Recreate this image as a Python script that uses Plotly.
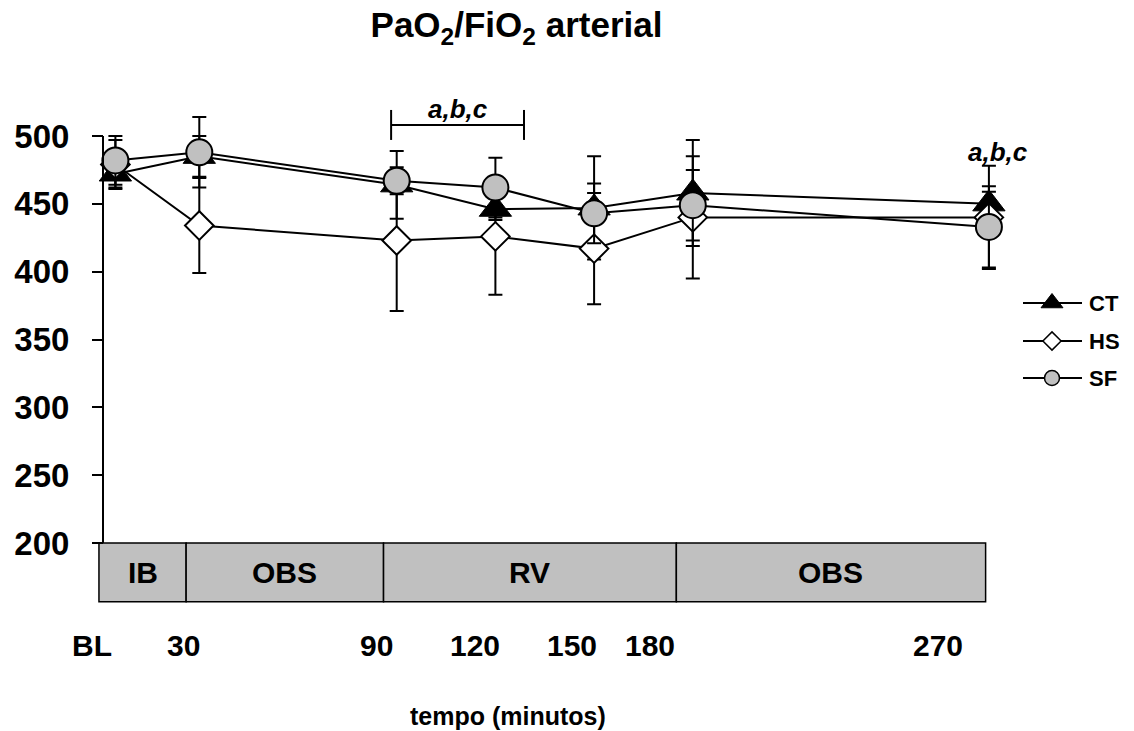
import plotly.graph_objects as go

# ---- data -------------------------------------------------------------
time_labels = ["BL", "30", "90", "120", "150", "180", "270"]
time_min = [4.5, 30, 90, 120, 150, 180, 270]

ct_mean = [472, 485, 464, 446, 447, 458, 450]
ct_sd = [10, 15, 25, 8, 38, 39, 9]

hs_mean = [479, 434, 423, 426, 417, 440, 440]
hs_sd = [18, 35, 52, 43, 41, 45, 38]

sf_mean = [482, 488, 467, 462, 443, 449, 433]
sf_sd = [18, 26, 10, 22, 22, 26, 30]

phase_labels = ["IB", "OBS", "RV", "OBS"]
phase_edges = [-0.5, 26, 86, 175, 269]

y_ticks = [200, 250, 300, 350, 400, 450, 500]

# ---- layout constants -------------------------------------------------
W, H = 1134, 731
ML, MR, MT, MB = 97, 0, 80, 111
PW, PH = W - ML - MR, H - MT - MB
PX_PER_MIN, X0_PX = 3.29, 100.6          # pixel of minute 0
X_RANGE = [(ML - X0_PX) / PX_PER_MIN, (W - MR - X0_PX) / PX_PER_MIN]
Y_RANGE = [143.25, 541.28]
AXIS_POS = (103 - ML) / PW
BAND_BOTTOM = 156.7

FONT = "Arial, 'Liberation Sans', sans-serif"
label_shift = [-23, -16, -20, -20, -22, -43, -51]   # px, time labels sit left of the samples


def py(px):
    """Paper y fraction for a pixel row of the page."""
    return (H - MB - px) / PH


fig = go.Figure()

series = [
    ("CT", ct_mean, ct_sd, dict(symbol="triangle-up", size=28, color="black",
                                line=dict(color="black", width=1))),
    ("HS", hs_mean, hs_sd, dict(symbol="diamond", size=22, color="white",
                                line=dict(color="black", width=2))),
    ("SF", sf_mean, sf_sd, dict(symbol="circle", size=26, color="#c0c0c0",
                                line=dict(color="black", width=2))),
]

for name, mean, sd, marker in series:
    fig.add_trace(go.Scatter(
        x=time_min, y=mean, name=name, mode="lines+markers",
        line=dict(color="black", width=2), marker=marker,
        error_y=dict(type="data", array=sd, color="black", thickness=2, width=7),
        cliponaxis=False, xaxis="x", yaxis="y",
    ))

# legend keys drawn on a pixel-scaled overlay axis
legend_rows = [303, 341, 378]
legend_marker = {
    "CT": dict(symbol="triangle-up", size=19, color="black",
               line=dict(color="black", width=1)),
    "HS": dict(symbol="diamond", size=14, color="white",
               line=dict(color="black", width=1.5)),
    "SF": dict(symbol="circle", size=15, color="#c0c0c0",
               line=dict(color="black", width=1.5)),
}
shapes = []
annotations = []
for (name, _, _, _), ry in zip(series, legend_rows):
    shapes.append(dict(type="line", xref="x2", yref="y2", x0=1023, x1=1082,
                       y0=ry, y1=ry, line=dict(color="black", width=2),
                       layer="below"))
    fig.add_trace(go.Scatter(x=[1052], y=[ry], mode="markers",
                             marker=legend_marker[name], xaxis="x2",
                             yaxis="y2", cliponaxis=False, hoverinfo="skip"))
    annotations.append(dict(text=f"<b>{name}</b>", xref="x2", yref="y2",
                            x=1087, y=ry, xanchor="left", yanchor="middle",
                            showarrow=False,
                            font=dict(family=FONT, size=22, color="black")))

# phase band under the time axis
for i, lab in enumerate(phase_labels):
    x0, x1 = phase_edges[i], phase_edges[i + 1]
    shapes.append(dict(type="rect", xref="x", yref="y", x0=x0, x1=x1,
                       y0=BAND_BOTTOM, y1=200, fillcolor="#c0c0c0",
                       line=dict(color="black", width=1.5), layer="below"))
    annotations.append(dict(text=f"<b>{lab}</b>", xref="x", yref="y",
                            x=(x0 + x1) / 2, y=(BAND_BOTTOM + 200) / 2,
                            showarrow=False,
                            font=dict(family=FONT, size=30, color="black")))

# y axis line (only over the value range)
shapes.append(dict(type="line", xref="paper", yref="y", x0=AXIS_POS,
                   x1=AXIS_POS, y0=200, y1=500,
                   line=dict(color="black", width=2)))

# significance bracket over 90-120 min
br_x0, br_x1, br_y = 88.3, 128.7, 508.1
shapes.append(dict(type="line", xref="x", yref="y", x0=br_x0, x1=br_x1,
                   y0=br_y, y1=br_y, line=dict(color="black", width=2)))
for bx in (br_x0, br_x1):
    shapes.append(dict(type="line", xref="x", yref="y", x0=bx, x1=bx,
                       y0=497.1, y1=519.2, line=dict(color="black", width=2)))
annotations.append(dict(text="<b><i>a,b,c</i></b>", xref="x", yref="y",
                        x=(br_x0 + br_x1) / 2, y=520, showarrow=False,
                        font=dict(family=FONT, size=26, color="black")))
annotations.append(dict(text="<b><i>a,b,c</i></b>", xref="x", yref="y",
                        x=272.8, y=488.2, showarrow=False,
                        font=dict(family=FONT, size=26, color="black")))

# time labels under the band
for lab, t, dx in zip(time_labels, time_min, label_shift):
    annotations.append(dict(text=f"<b>{lab}</b>", xref="x", yref="paper",
                            x=t, xshift=dx, y=py(645), showarrow=False,
                            xanchor="center", yanchor="middle",
                            font=dict(family=FONT, size=30, color="black")))

annotations.append(dict(text="<b>tempo (minutos)</b>", xref="paper",
                        yref="paper", x=(507.5 - ML) / PW, y=py(716),
                        showarrow=False, xanchor="center", yanchor="middle",
                        font=dict(family=FONT, size=25, color="black")))

fig.update_layout(
    width=W, height=H,
    margin=dict(l=ML, r=MR, t=MT, b=MB, pad=0),
    paper_bgcolor="white", plot_bgcolor="white",
    showlegend=False,
    title=dict(text="<b>PaO<sub>2</sub>/FiO<sub>2</sub> arterial</b>",
               xref="container", yref="container",
               x=516.5 / W, y=1 - 25 / H, xanchor="center", yanchor="middle",
               font=dict(family=FONT, size=35, color="black")),
    xaxis=dict(range=X_RANGE, visible=False, domain=[0, 1]),
    yaxis=dict(range=Y_RANGE, anchor="free", position=AXIS_POS,
               tickvals=y_ticks, ticks="outside", ticklen=11, tickwidth=2,
               tickcolor="black", showgrid=False, zeroline=False,
               showline=False, ticklabelstandoff=16,
               tickfont=dict(family=FONT, size=33, color="black",
                             weight="bold")),
    xaxis2=dict(range=[ML, W - MR], visible=False, overlaying="x",
                anchor="y2"),
    yaxis2=dict(range=[H - MB, MT], visible=False, overlaying="y",
                anchor="x2"),
    shapes=shapes,
    annotations=annotations,
)

fig.write_html("out.html")
